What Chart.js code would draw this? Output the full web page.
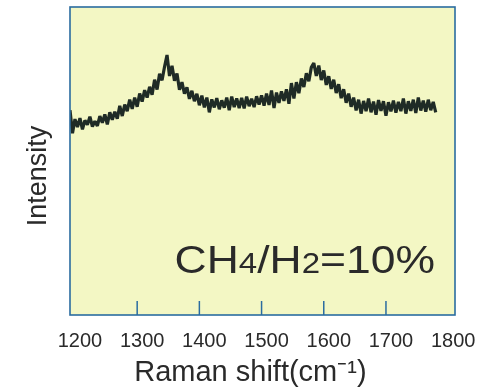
<!DOCTYPE html>
<html>
<head>
<meta charset="utf-8">
<script src="https://cdn.jsdelivr.net/npm/chart.js@4/dist/chart.umd.min.js"></script>
<style>
  html, body { margin: 0; padding: 0; background: #ffffff; }
  #wrap { width: 483px; height: 392px; }
</style>
</head>
<body>
<div id="wrap"><canvas id="c" width="483" height="392"></canvas></div>
<script>
// Raman shift (cm-1) sample positions
const ramanShift = [
  1192,1196,1200,1204,1208,1212,1216,1220,1224,1228,
  1232,1236,1240,1244,1248,1252,1256,1260,1264,1268,
  1272,1276,1280,1284,1288,1292,1296,1300,1304,1308,
  1312,1316,1320,1324,1328,1332,1336,1340,1344,1348,
  1352,1356,1360,1364,1368,1372,1376,1380,1384,1388,
  1392,1396,1400,1404,1408,1412,1416,1420,1424,1428,
  1432,1436,1440,1444,1448,1452,1456,1460,1464,1468,
  1472,1476,1480,1484,1488,1492,1496,1500,1504,1508,
  1512,1516,1520,1524,1528,1532,1536,1540,1544,1548,
  1552,1556,1560,1564,1568,1572,1576,1580,1584,1588,
  1592,1596,1600,1604,1608,1612,1616,1620,1624,1628,
  1632,1636,1640,1644,1648,1652,1656,1660,1664,1668,
  1672,1676,1680,1684,1688,1692,1696,1700,1704,1708,
  1712,1716,1720,1724,1728,1732,1736,1740,1744,1748,
  1752,1756,1760,1764,1768,1772,1776,1780
];
// Intensity (arbitrary units)
const intensity = [
  66.5,59.0,63.6,61.0,63.9,60.3,63.2,61.8,64.4,61.2,
  62.9,61.4,64.6,62.4,65.1,61.9,65.8,63.4,66.0,63.7,
  67.9,64.6,68.3,66.2,69.9,66.9,70.6,67.6,71.9,69.3,
  73.0,70.6,74.1,71.5,76.4,73.2,78.3,76.2,80.6,84.4,
  77.6,80.9,76.1,78.4,73.1,75.6,71.9,73.9,70.2,72.8,
  69.4,71.8,68.1,71.2,67.4,70.6,65.8,70.0,67.4,70.4,
  66.8,69.7,67.3,70.6,66.5,70.9,67.5,70.3,67.2,70.5,
  67.1,70.9,67.8,70.2,67.5,71.0,68.3,71.3,68.0,71.9,
  68.2,72.9,67.2,72.2,68.9,72.6,69.5,73.3,68.6,75.3,
  70.3,75.6,72.0,76.8,74.0,78.5,75.9,80.4,81.8,77.6,
  81.0,76.3,79.4,74.7,77.5,73.4,76.4,72.1,74.9,70.4,
  73.3,68.9,71.9,67.6,70.6,66.4,69.9,65.4,69.5,66.2,
  70.3,65.8,69.3,65.0,69.8,66.3,69.4,64.7,69.1,66.1,
  69.6,65.7,69.2,66.2,70.3,65.4,69.4,66.3,69.9,65.6,
  70.6,66.4,69.6,66.0,69.9,66.5,69.2,65.8
];
// Axis tick labels and inner tick marks
const xTickLabels = [1200,1300,1400,1500,1600,1700,1800];
const innerTickMarks = [1300,1400,1500,1600,1700];

const FONT = '"Liberation Sans", Arial, Helvetica, sans-serif';
const TEXT = '#2a2a2a';
const FRAME = '#2a6ca0';
const FILL = '#f3f7c4';

Chart.defaults.font.family = FONT;

const framePlugin = {
  id: 'frame',
  beforeDatasetsDraw(chart) {
    const { ctx, chartArea: a } = chart;
    ctx.save();
    ctx.fillStyle = FILL;
    ctx.fillRect(a.left, a.top, a.right - a.left, a.bottom - a.top);
    ctx.restore();
  },
  afterDatasetsDraw(chart) {
    const { ctx, chartArea: a, scales } = chart;
    ctx.save();
    ctx.strokeStyle = FRAME;
    ctx.lineWidth = 1.6;
    ctx.strokeRect(a.left, a.top, a.right - a.left, a.bottom - a.top);
    ctx.lineWidth = 1.5;
    innerTickMarks.forEach(v => {
      const px = scales.x.getPixelForValue(v);
      ctx.beginPath();
      ctx.moveTo(px, a.bottom);
      ctx.lineTo(px, a.bottom - 14);
      ctx.stroke();
    });
    // annotation text
    const parts = [['CH', 39], ['4', 29], ['/H', 39], ['2', 29], ['=10%', 39]];
    const sx = 1.14;
    let total = 0;
    parts.forEach(p => { ctx.font = p[1] + 'px ' + FONT; total += ctx.measureText(p[0]).width; });
    const right = a.right - 20;
    const baseY = a.bottom - 42;
    ctx.translate(right - total * sx, baseY);
    ctx.scale(sx, 1);
    ctx.fillStyle = TEXT;
    ctx.textBaseline = 'alphabetic';
    ctx.textAlign = 'left';
    let x = 0;
    parts.forEach(p => {
      ctx.font = p[1] + 'px ' + FONT;
      ctx.fillText(p[0], x, 0);
      x += ctx.measureText(p[0]).width;
    });
    ctx.restore();
  }
};

new Chart(document.getElementById('c'), {
  type: 'line',
  data: {
    datasets: [{
      data: ramanShift.map((x, i) => ({ x: x, y: intensity[i] })),
      borderColor: '#1f2b26',
      borderWidth: 3.2,
      borderJoinStyle: 'bevel',
      pointRadius: 0,
      tension: 0,
      fill: false
    }]
  },
  options: {
    responsive: false,
    animation: false,
    devicePixelRatio: 1,
    layout: { padding: { top: 7, right: 28, left: 0, bottom: 0 } },
    plugins: { legend: { display: false }, tooltip: { enabled: false } },
    scales: {
      x: {
        type: 'linear',
        min: 1192,
        max: 1811,
        afterBuildTicks: s => { s.ticks = xTickLabels.map(v => ({ value: v })); },
        afterFit: s => { s.height = 77; s.paddingLeft = 0; s.paddingRight = 0; },
        grid: { display: false, drawTicks: false },
        border: { display: false },
        ticks: {
          padding: 14, labelOffset: 5, autoSkip: false, maxRotation: 0,
          color: TEXT, font: { size: 20, family: FONT },
          callback: v => String(v)
        },
        title: {
          display: true, text: 'Raman shift(cm\u207B\u00B9)   ',
          color: TEXT, font: { size: 29, family: FONT },
          padding: { top: 0, bottom: 2 }
        }
      },
      y: {
        min: 0,
        max: 100,
        afterFit: s => { s.width = 70; s.paddingTop = 0; s.paddingBottom = 0; },
        grid: { display: false, drawTicks: false },
        border: { display: false },
        ticks: { display: false },
        title: {
          display: true, text: 'Intensity    ',
          color: TEXT, font: { size: 27, family: FONT },
          padding: { top: 22, bottom: 0 }
        }
      }
    }
  },
  plugins: [framePlugin]
});
</script>
</body>
</html>
